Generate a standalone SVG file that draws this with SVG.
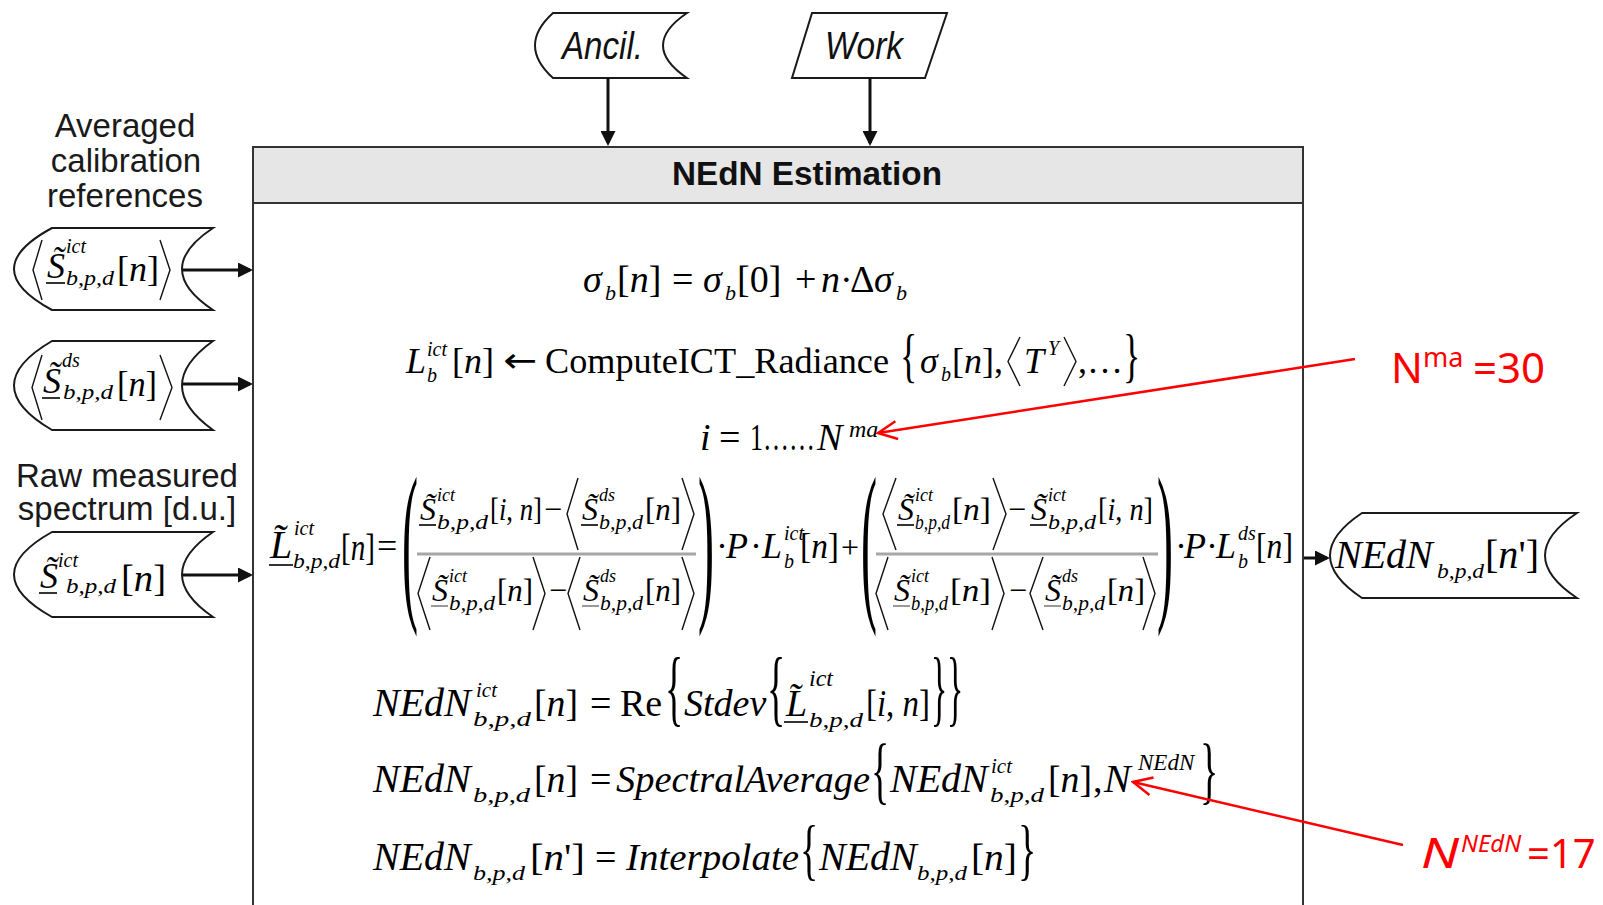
<svg xmlns="http://www.w3.org/2000/svg" width="1603" height="905" viewBox="0 0 1603 905">
<style>
.lbl{font-family:"Liberation Sans",Arial,sans-serif;font-size:33px;fill:#1a1a1a;text-anchor:middle}
.hd{font-family:"Liberation Sans",Arial,sans-serif;fill:#111}
.m{font-family:"Liberation Serif","Times New Roman",serif;fill:#000}
.it{font-style:italic}
.node{fill:#fff;stroke:#1a1a1a;stroke-width:2}
.edge{stroke:#111;stroke-width:3;fill:none}
.ang{stroke:#111;stroke-width:1.4;fill:none}
.ul{stroke:#000;stroke-width:1.6}
.ulg{stroke:#999;stroke-width:2}
.bar{stroke:#a6a6a6;stroke-width:3}
.red{font-family:"Noto Sans","Open Sans",sans-serif;fill:#f00}
.rline{stroke:#f00;stroke-width:2.5;fill:none}
</style>
<defs>
<marker id="ah" viewBox="0 0 10 10" refX="8" refY="5" markerWidth="5" markerHeight="5" orient="auto" markerUnits="strokeWidth"><path d="M0,0 L10,5 L0,10 Z" fill="#111"/></marker>
<marker id="ro" viewBox="0 0 22 22" refX="20" refY="11" markerWidth="22" markerHeight="22" orient="auto" markerUnits="userSpaceOnUse"><path d="M1,2 L20,11 L1,20" fill="none" stroke="#f00" stroke-width="2.5"/></marker>
</defs>

<g id="ancil">
<path class="node" d="M553,13 H687 Q639,45.5 687,78 H553 Q517,45.5 553,13 Z"/>
<text class="hd" x="562" y="59" font-size="38" font-style="italic" textLength="81" lengthAdjust="spacingAndGlyphs">Ancil.</text>
</g>
<g id="work">
<polygon class="node" points="812,13 947,13 925,78 792,78"/>
<text class="hd" x="825" y="59" font-size="38" font-style="italic" textLength="78" lengthAdjust="spacingAndGlyphs">Work</text>
</g>

<g id="nedn-estimation">
<rect x="253" y="147" width="1050" height="56" fill="#e6e6e6" stroke="#333" stroke-width="2"/>
<path d="M253,147 V906 M1303,147 V906" stroke="#333" stroke-width="2" fill="none"/>
<text class="hd" x="807" y="185" text-anchor="middle" font-weight="bold" font-size="34" textLength="270" lengthAdjust="spacingAndGlyphs">NEdN Estimation</text>

<g id="eq-sigma">
<text class="m it" x="583" y="292" font-size="38">σ</text>
<text class="m it" x="605" y="300" font-size="22">b</text>
<text class="m" x="617" y="292" font-size="38">[<tspan class="it">n</tspan>]</text>
<text class="m" x="672" y="292" font-size="38">=</text>
<text class="m it" x="703" y="292" font-size="38">σ</text>
<text class="m it" x="725" y="300" font-size="22">b</text>
<text class="m" x="737" y="292" font-size="38">[0]</text>
<text class="m" x="795" y="292" font-size="38">+</text>
<text class="m it" x="821" y="292" font-size="38">n</text>
<text class="m" x="840" y="292" font-size="38">·</text>
<text class="m" x="850" y="292" font-size="38">Δ</text>
<text class="m it" x="874" y="292" font-size="38">σ</text>
<text class="m it" x="896" y="300" font-size="22">b</text>
</g>

<g id="eq-radiance">
<text class="m it" x="406" y="373" font-size="36">L</text>
<text class="m it" x="427" y="356" font-size="20">ict</text>
<text class="m it" x="427" y="382" font-size="20">b</text>
<text class="m" x="452" y="373" font-size="36">[<tspan class="it">n</tspan>]</text>
<text x="503" y="372" font-family="DejaVu Sans,sans-serif" font-size="34" textLength="34" lengthAdjust="spacingAndGlyphs">←</text>
<text class="m" x="545" y="373" font-size="36" textLength="344" lengthAdjust="spacingAndGlyphs">ComputeICT_Radiance</text>
<text class="m" font-size="36" transform="translate(900,375.4) scale(1,1.63)">{</text>
<text class="m it" x="920" y="373" font-size="36">σ</text>
<text class="m it" x="941" y="381" font-size="20">b</text>
<text class="m" x="952" y="373" font-size="36">[<tspan class="it">n</tspan>],</text>
<polyline class="ang" points="1020,337 1008,361.5 1020,386"/>
<text class="m it" x="1024" y="373" font-size="36">T</text>
<text class="m it" x="1048" y="355" font-size="20">Y</text>
<polyline class="ang" points="1064,337 1076,361.5 1064,386"/>
<text class="m" x="1078" y="373" font-size="36">,…</text>
<text class="m" font-size="36" transform="translate(1123,375.4) scale(1,1.63)">}</text>
</g>

<g id="eq-loop">
<text class="m it" x="700" y="450" font-size="38">i</text>
<text class="m" x="719" y="450" font-size="38">=</text>
<text class="m" x="750" y="450" font-size="38" textLength="65" lengthAdjust="spacingAndGlyphs">1……</text>
<text class="m it" x="817" y="450" font-size="38">N</text>
<text class="m it" x="849" y="437" font-size="24">ma</text>
</g>

<g id="eq-calibrated">
<text class="m it" x="270" y="558" font-size="40">L̃</text>
<line class="ul" x1="269" y1="565" x2="293" y2="565"/>
<text class="m it" x="294" y="535" font-size="20">ict</text>
<text class="m it" x="293" y="568" font-size="21" textLength="47" lengthAdjust="spacingAndGlyphs">b,p,d</text>
<text class="m" x="341" y="560" font-size="38" textLength="34" lengthAdjust="spacingAndGlyphs">[<tspan class="it">n</tspan>]</text>
<text class="m" x="377" y="558" font-size="36">=</text>
<text class="m" font-size="48" transform="translate(402,599) scale(1,3.66)">(</text>
<text class="m" font-size="48" transform="translate(698,599) scale(1,3.66)">)</text>
<!-- numerator 1 -->
<text class="m it" x="420" y="520" font-size="32">S̃</text>
<line class="ul" x1="419" y1="525" x2="436" y2="525"/>
<text class="m it" x="437" y="501" font-size="18">ict</text>
<text class="m it" x="437" y="529" font-size="20" textLength="51" lengthAdjust="spacingAndGlyphs">b,p,d</text>
<text class="m" x="490" y="520" font-size="32" textLength="52" lengthAdjust="spacingAndGlyphs">[<tspan class="it">i</tspan>, <tspan class="it">n</tspan>]</text>
<text class="m" x="544" y="520" font-size="32">−</text>
<polyline class="ang" points="578,478 567,514 578,550"/>
<text class="m it" x="582" y="520" font-size="32">S̃</text>
<line class="ul" x1="581" y1="525" x2="598" y2="525"/>
<text class="m it" x="599" y="501" font-size="18">ds</text>
<text class="m it" x="599" y="529" font-size="20" textLength="44" lengthAdjust="spacingAndGlyphs">b,p,d</text>
<text class="m" x="645" y="520" font-size="32" textLength="36" lengthAdjust="spacingAndGlyphs">[<tspan class="it">n</tspan>]</text>
<polyline class="ang" points="682,478 694,514 682,550"/>
<line class="bar" x1="417" y1="554" x2="696" y2="554"/>
<!-- denominator 1 -->
<polyline class="ang" points="430,557 418,593.5 430,630"/>
<text class="m it" x="432" y="601" font-size="32">S̃</text>
<line class="ulg" x1="431" y1="606" x2="448" y2="606"/>
<text class="m it" x="449" y="582" font-size="18">ict</text>
<text class="m it" x="449" y="610" font-size="20" textLength="46" lengthAdjust="spacingAndGlyphs">b,p,d</text>
<text class="m" x="497" y="601" font-size="32" textLength="36" lengthAdjust="spacingAndGlyphs">[<tspan class="it">n</tspan>]</text>
<polyline class="ang" points="533,557 545,593.5 533,630"/>
<text class="m" x="549" y="601" font-size="32">−</text>
<polyline class="ang" points="580,557 568,593.5 580,630"/>
<text class="m it" x="583" y="601" font-size="32">S̃</text>
<line class="ulg" x1="582" y1="606" x2="599" y2="606"/>
<text class="m it" x="600" y="582" font-size="18">ds</text>
<text class="m it" x="600" y="610" font-size="20" textLength="43" lengthAdjust="spacingAndGlyphs">b,p,d</text>
<text class="m" x="645" y="601" font-size="32" textLength="36" lengthAdjust="spacingAndGlyphs">[<tspan class="it">n</tspan>]</text>
<polyline class="ang" points="682,557 694,593.5 682,630"/>
<!-- middle -->
<text class="m" x="716" y="558" font-size="36">·</text>
<text class="m it" x="726" y="558" font-size="36">P</text>
<text class="m" x="750" y="558" font-size="36">·</text>
<text class="m it" x="762" y="558" font-size="36">L</text>
<text class="m it" x="784" y="540" font-size="20">ict</text>
<text class="m it" x="784" y="568" font-size="20">b</text>
<text class="m" x="800" y="558" font-size="36" textLength="39" lengthAdjust="spacingAndGlyphs">[<tspan class="it">n</tspan>]</text>
<text class="m" x="841" y="558" font-size="32">+</text>
<text class="m" font-size="48" transform="translate(861,599) scale(1,3.66)">(</text>
<text class="m" font-size="48" transform="translate(1157,599) scale(1,3.66)">)</text>
<!-- numerator 2 -->
<polyline class="ang" points="896,478 883,514 896,550"/>
<text class="m it" x="898" y="520" font-size="32">S̃</text>
<line class="ul" x1="897" y1="525" x2="914" y2="525"/>
<text class="m it" x="915" y="501" font-size="18">ict</text>
<text class="m it" x="915" y="529" font-size="20" textLength="35" lengthAdjust="spacingAndGlyphs">b,p,d</text>
<text class="m" x="952" y="520" font-size="32" textLength="39" lengthAdjust="spacingAndGlyphs">[<tspan class="it">n</tspan>]</text>
<polyline class="ang" points="993,478 1006,514 993,550"/>
<text class="m" x="1008" y="520" font-size="32">−</text>
<text class="m it" x="1031" y="520" font-size="32">S̃</text>
<line class="ul" x1="1030" y1="525" x2="1047" y2="525"/>
<text class="m it" x="1048" y="501" font-size="18">ict</text>
<text class="m it" x="1048" y="529" font-size="20" textLength="48" lengthAdjust="spacingAndGlyphs">b,p,d</text>
<text class="m" x="1098" y="520" font-size="32" textLength="55" lengthAdjust="spacingAndGlyphs">[<tspan class="it">i</tspan>, <tspan class="it">n</tspan>]</text>
<line class="bar" x1="876" y1="554" x2="1158" y2="554"/>
<!-- denominator 2 -->
<polyline class="ang" points="888,557 876,593.5 888,630"/>
<text class="m it" x="894" y="601" font-size="32">S̃</text>
<line class="ulg" x1="893" y1="606" x2="910" y2="606"/>
<text class="m it" x="911" y="582" font-size="18">ict</text>
<text class="m it" x="911" y="610" font-size="20" textLength="37" lengthAdjust="spacingAndGlyphs">b,p,d</text>
<text class="m" x="950" y="601" font-size="32" textLength="41" lengthAdjust="spacingAndGlyphs">[<tspan class="it">n</tspan>]</text>
<polyline class="ang" points="992,557 1004,593.5 992,630"/>
<text class="m" x="1009" y="601" font-size="32">−</text>
<polyline class="ang" points="1043,557 1030,593.5 1043,630"/>
<text class="m it" x="1045" y="601" font-size="32">S̃</text>
<line class="ulg" x1="1044" y1="606" x2="1061" y2="606"/>
<text class="m it" x="1062" y="582" font-size="18">ds</text>
<text class="m it" x="1062" y="610" font-size="20" textLength="43" lengthAdjust="spacingAndGlyphs">b,p,d</text>
<text class="m" x="1107" y="601" font-size="32" textLength="38" lengthAdjust="spacingAndGlyphs">[<tspan class="it">n</tspan>]</text>
<polyline class="ang" points="1143,557 1155,593.5 1143,630"/>
<!-- tail -->
<text class="m" x="1175" y="558" font-size="36">·</text>
<text class="m it" x="1184" y="558" font-size="36">P</text>
<text class="m" x="1206" y="558" font-size="36">·</text>
<text class="m it" x="1216" y="558" font-size="36">L</text>
<text class="m it" x="1238" y="540" font-size="20">ds</text>
<text class="m it" x="1238" y="568" font-size="20">b</text>
<text class="m" x="1256" y="558" font-size="36" textLength="37" lengthAdjust="spacingAndGlyphs">[<tspan class="it">n</tspan>]</text>
</g>

<g id="eq-nedn-ict">
<text class="m it" x="373" y="716" font-size="40">NEdN</text>
<text class="m it" x="476" y="697" font-size="21">ict</text>
<text class="m it" x="473" y="726" font-size="21" textLength="58" lengthAdjust="spacingAndGlyphs">b,p,d</text>
<text class="m" x="534" y="716" font-size="38" textLength="44" lengthAdjust="spacingAndGlyphs">[<tspan class="it">n</tspan>]</text>
<text class="m" x="590" y="716" font-size="38">=</text>
<text class="m" x="620" y="716" font-size="38">Re</text>
<text class="m" font-size="38" transform="translate(665,716) scale(1,2.2)">{</text>
<text class="m it" x="684" y="716" font-size="38">Stdev</text>
<text class="m" font-size="38" transform="translate(767,716) scale(1,2.2)">{</text>
<text class="m it" x="786" y="716" font-size="38">L̃</text>
<line class="ul" x1="784" y1="722" x2="808" y2="722"/>
<text class="m it" x="809" y="686" font-size="24">ict</text>
<text class="m it" x="809" y="727" font-size="22" textLength="54" lengthAdjust="spacingAndGlyphs">b,p,d</text>
<text class="m" x="866" y="716" font-size="38" textLength="64" lengthAdjust="spacingAndGlyphs">[<tspan class="it">i</tspan>, <tspan class="it">n</tspan>]</text>
<text class="m" font-size="34" transform="translate(931,716) scale(1,2.46)">}</text>
<text class="m" font-size="34" transform="translate(947,716) scale(1,2.46)">}</text>
</g>

<g id="eq-spectral-average">
<text class="m it" x="373" y="792" font-size="40">NEdN</text>
<text class="m it" x="473" y="802" font-size="21" textLength="57" lengthAdjust="spacingAndGlyphs">b,p,d</text>
<text class="m" x="534" y="792" font-size="38" textLength="44" lengthAdjust="spacingAndGlyphs">[<tspan class="it">n</tspan>]</text>
<text class="m" x="590" y="792" font-size="38">=</text>
<text class="m it" x="616" y="792" font-size="38" textLength="254" lengthAdjust="spacingAndGlyphs">SpectralAverage</text>
<text class="m" font-size="38" transform="translate(871,794.5) scale(1,1.96)">{</text>
<text class="m it" x="890" y="792" font-size="40">NEdN</text>
<text class="m it" x="991" y="773" font-size="21">ict</text>
<text class="m it" x="990" y="802" font-size="21" textLength="54" lengthAdjust="spacingAndGlyphs">b,p,d</text>
<text class="m" x="1048" y="792" font-size="38" textLength="44" lengthAdjust="spacingAndGlyphs">[<tspan class="it">n</tspan>]</text>
<text class="m" x="1093" y="792" font-size="38">,</text>
<text class="m it" x="1104" y="792" font-size="40">N</text>
<text class="m it" x="1138" y="770" font-size="23">NEdN</text>
<text class="m" font-size="38" transform="translate(1200,794.5) scale(1,1.96)">}</text>
</g>

<g id="eq-interpolate">
<text class="m it" x="373" y="870" font-size="40">NEdN</text>
<text class="m it" x="473" y="880" font-size="21" textLength="52" lengthAdjust="spacingAndGlyphs">b,p,d</text>
<text class="m" x="530" y="870" font-size="38" textLength="55" lengthAdjust="spacingAndGlyphs">[<tspan class="it">n</tspan>']</text>
<text class="m" x="595" y="870" font-size="38">=</text>
<text class="m it" x="626" y="870" font-size="38" textLength="173" lengthAdjust="spacingAndGlyphs">Interpolate</text>
<text class="m" font-size="38" transform="translate(800,871.6) scale(1,1.8)">{</text>
<text class="m it" x="819" y="870" font-size="40">NEdN</text>
<text class="m it" x="917" y="880" font-size="21" textLength="50" lengthAdjust="spacingAndGlyphs">b,p,d</text>
<text class="m" x="971" y="870" font-size="38" textLength="46" lengthAdjust="spacingAndGlyphs">[<tspan class="it">n</tspan>]</text>
<text class="m" font-size="38" transform="translate(1018,871.6) scale(1,1.8)">}</text>
</g>
</g>

<g id="label-averaged">
<text class="lbl" x="125" y="137">Averaged</text>
<text class="lbl" x="126" y="172">calibration</text>
<text class="lbl" x="125" y="207">references</text>
</g>

<g id="calib-ict">
<path class="node" d="M52,228 H213 Q151,269 213,310 H52 Q-24,269 52,228 Z"/>
<polyline class="ang" points="42,240 33,270 42,300"/>
<text class="m it" x="47" y="278" font-size="36">S̃</text>
<line class="ul" x1="46" y1="283" x2="65" y2="283"/>
<text class="m it" x="66" y="253" font-size="20">ict</text>
<text class="m it" x="66" y="285" font-size="20" textLength="48" lengthAdjust="spacingAndGlyphs">b,p,d</text>
<text class="m" x="117" y="281" font-size="36" textLength="42" lengthAdjust="spacingAndGlyphs">[<tspan class="it">n</tspan>]</text>
<polyline class="ang" points="160,240 170,270 160,300"/>
</g>

<g id="calib-ds">
<path class="node" d="M52,341 H213 Q151,385.5 213,430 H52 Q-24,385.5 52,341 Z"/>
<polyline class="ang" points="42,355 32,387.5 42,420"/>
<text class="m it" x="43" y="393" font-size="36">S̃</text>
<line class="ul" x1="42" y1="398" x2="60" y2="398"/>
<text class="m it" x="62" y="367" font-size="20">ds</text>
<text class="m it" x="63" y="399" font-size="20" textLength="50" lengthAdjust="spacingAndGlyphs">b,p,d</text>
<text class="m" x="117" y="396" font-size="36" textLength="40" lengthAdjust="spacingAndGlyphs">[<tspan class="it">n</tspan>]</text>
<polyline class="ang" points="160,355 172,387.5 160,420"/>
</g>

<g id="label-raw">
<text class="lbl" x="127" y="487">Raw measured</text>
<text class="lbl" x="127" y="520">spectrum [d.u.]</text>
</g>

<g id="raw-ict">
<path class="node" d="M52,532 H213 Q151,574.5 213,617 H52 Q-24,574.5 52,532 Z"/>
<text class="m it" x="40" y="588" font-size="36">S̃</text>
<line class="ul" x1="39" y1="593" x2="57" y2="593"/>
<text class="m it" x="58" y="567" font-size="20">ict</text>
<text class="m it" x="66" y="593" font-size="20" textLength="50" lengthAdjust="spacingAndGlyphs">b,p,d</text>
<text class="m" x="121" y="591" font-size="38" textLength="45" lengthAdjust="spacingAndGlyphs">[<tspan class="it">n</tspan>]</text>
</g>

<g id="output-nedn">
<path class="node" d="M1362,513 H1577 Q1513,555.5 1577,598 H1362 Q1298,555.5 1362,513 Z"/>
<text class="m it" x="1335" y="568" font-size="40">NEdN</text>
<text class="m it" x="1437" y="578" font-size="22" textLength="47" lengthAdjust="spacingAndGlyphs">b,p,d</text>
<text class="m" x="1485" y="568" font-size="40" textLength="54" lengthAdjust="spacingAndGlyphs">[<tspan class="it">n</tspan>']</text>
</g>

<g id="annot-nma">
<text class="red" x="1391" y="383" font-size="42">N</text>
<text class="red" x="1423" y="367" font-size="27">ma</text>
<text class="red" x="1473" y="383" font-size="42">=30</text>
</g>

<g id="annot-nnedn">
<text class="red" x="1421" y="868" font-size="41" font-style="italic" textLength="38" lengthAdjust="spacingAndGlyphs">N</text>
<text class="red" x="1461" y="852" font-size="24" font-style="italic">NEdN</text>
<text class="red" x="1527" y="868" font-size="40">=17</text>
</g>

<g id="connectors">
<line class="edge" x1="608" y1="78" x2="608" y2="143" marker-end="url(#ah)"/>
<line class="edge" x1="870" y1="78" x2="870" y2="143" marker-end="url(#ah)" stroke="#444"/>
<line class="edge" x1="183" y1="270" x2="250" y2="270" marker-end="url(#ah)"/>
<line class="edge" x1="183" y1="384" x2="250" y2="384" marker-end="url(#ah)"/>
<line class="edge" x1="183" y1="575" x2="250" y2="575" marker-end="url(#ah)"/>
<line class="edge" x1="1304" y1="558" x2="1327" y2="558" marker-end="url(#ah)"/>
<line class="rline" x1="1355" y1="359" x2="878" y2="433" marker-end="url(#ro)"/>
<line class="rline" x1="1403" y1="845" x2="1133" y2="782" marker-end="url(#ro)"/>
</g>
</svg>
